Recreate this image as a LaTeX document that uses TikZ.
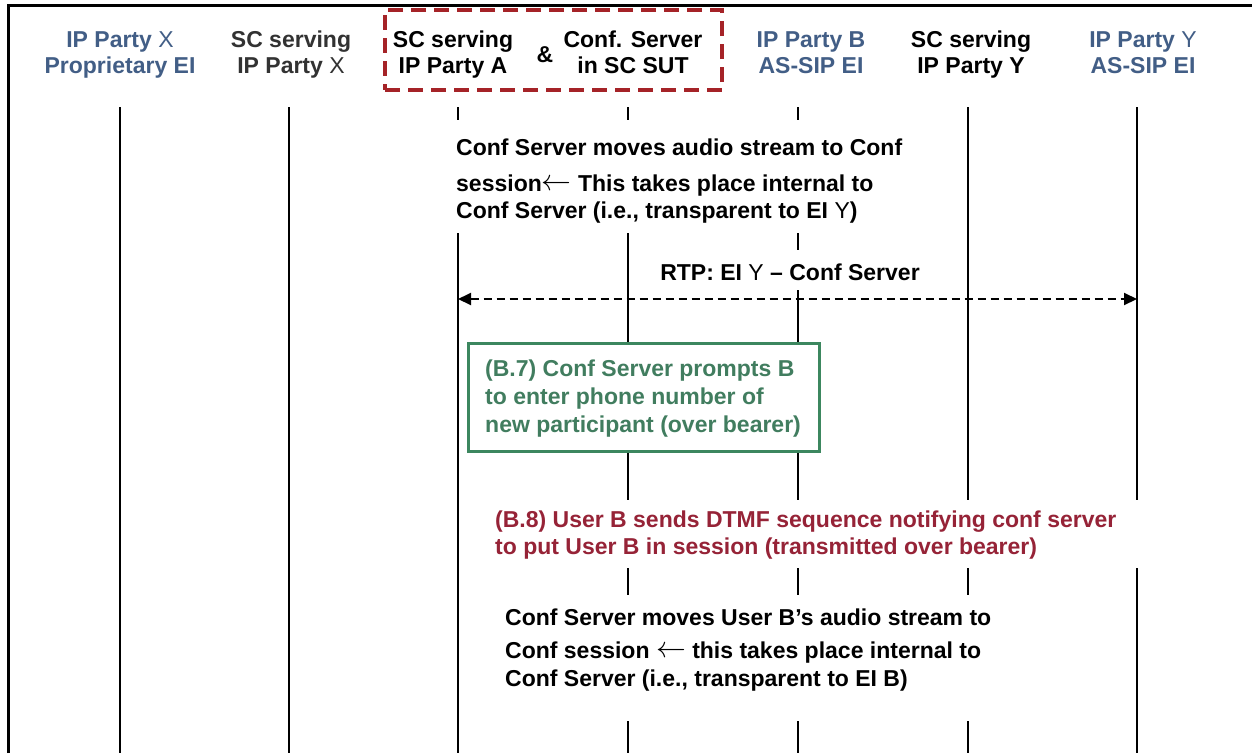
\documentclass[tikz,border=0pt]{standalone}
\usepackage{fontspec}
\setmainfont{Liberation Sans}
\usetikzlibrary{arrows.meta}
\definecolor{hdrblue}{RGB}{66,94,134}
\definecolor{hdrgrey}{RGB}{50,50,50}
\definecolor{boxred}{RGB}{165,35,40}
\definecolor{boxgreen}{RGB}{60,135,95}
\definecolor{txtgreen}{RGB}{65,125,95}
\definecolor{txtred}{RGB}{150,35,55}
\newcommand{\larr}{\raisebox{0.5pt}{\scalebox{1.2}{$\leftarrow$}}}
\begin{document}
\begin{tikzpicture}[x=1pt,y=-1pt,
  font=\fontsize{23}{28}\selectfont\bfseries,
  hdr/.style={anchor=base, inner sep=0pt},
  txtline/.style={anchor=base west, inner sep=0pt},
  life/.style={line width=2pt, black},
  mask/.style={fill=white, draw=none, inner sep=0pt, anchor=north west},
  frame/.style={line width=3pt, black},
  sutbox/.style={draw=boxred, line width=3.5pt, dash pattern=on 15pt off 8pt, inner sep=0pt, minimum width=337pt, minimum height=80pt},
  notebox/.style={draw=boxgreen, line width=3pt, fill=white, inner sep=0pt, anchor=north west, minimum width=351pt, minimum height=108pt},
  rtp/.style={line width=2pt, dash pattern=on 8pt off 5pt, {Triangle[length=13pt,width=12pt]}-{Triangle[length=13pt,width=12pt]}}
]
\useasboundingbox (0,0) rectangle (1252,753);
% frame
\coordinate (fr0) at (8,753);
\coordinate (fr1) at (8,5);
\coordinate (fr2) at (1252,5);
\draw[frame] (fr0) -- (fr1) -- (fr2);

% SUT box
\node[sutbox] (sut) at (553.5,50) {};

% headers
\node[hdr, text=hdrblue] (h1a) at (120,47) {IP Party {\mdseries X}};
\node[hdr, text=hdrblue] (h1b) at (120,73) {Proprietary EI};
\node[hdr, text=hdrgrey] (h2a) at (291,47) {SC serving};
\node[hdr, text=hdrgrey] (h2b) at (291,73) {IP Party {\mdseries X}};
\node[hdr] (h3a) at (453,47) {SC serving};
\node[hdr] (h3b) at (453,73) {IP Party A};
\node[hdr] (amp) at (545,62) {\&};
\node[hdr] (h4a) at (633,47) {Conf. Server};
\node[hdr] (h4b) at (633,73) {in SC SUT};
\node[hdr, text=hdrblue] (h5a) at (811,47) {IP Party B};
\node[hdr, text=hdrblue] (h5b) at (811,73) {AS-SIP EI};
\node[hdr] (h6a) at (971,47) {SC serving};
\node[hdr] (h6b) at (971,73) {IP Party Y};
\node[hdr, text=hdrblue] (h7a) at (1143,47) {IP Party {\mdseries Y}};
\node[hdr, text=hdrblue] (h7b) at (1143,73) {AS-SIP EI};

% lifelines
\foreach \i/\x in {1/120,2/289,3/458,4/628,5/798,6/968,7/1137}{
  \coordinate (l\i t) at (\x,107);
  \coordinate (l\i b) at (\x,753);
  \draw[life] (l\i t) -- (l\i b);
}

% block 1
\node[mask, minimum width=480pt, minimum height=113pt] (m1) at (445,120) {};
\node[txtline] (t1a) at (456,155) {Conf Server moves audio stream to Conf};
\node[txtline] (t1b) at (456,191) {session\larr\ This takes place internal to};
\node[txtline] (t1c) at (456,218) {Conf Server (i.e., transparent to EI {\mdseries Y})};

% RTP
\node[mask, minimum width=280pt, minimum height=40pt] (m2) at (650,250) {};
\node[hdr] (rtpl) at (790,280) {RTP: EI {\mdseries Y} -- Conf Server};
\coordinate (a3) at (458,299);
\coordinate (a7) at (1137,299);
\draw[rtp] (a3) -- (a7);

% B.7
\node[notebox] (b7) at (467,342) {};
\node[txtline, text=txtgreen] (b7a) at (485,376) {(B.7) Conf Server prompts B};
\node[txtline, text=txtgreen] (b7b) at (485,404) {to enter phone number of};
\node[txtline, text=txtgreen] (b7c) at (485,432) {new participant (over bearer)};

% B.8
\node[mask, minimum width=662pt, minimum height=68pt] (m3) at (488,500) {};
\node[txtline, text=txtred] (b8a) at (495,527) {(B.8) User B sends DTMF sequence notifying conf server};
\node[txtline, text=txtred] (b8b) at (495,554) {to put User B in session (transmitted over bearer)};

% last block
\node[mask, minimum width=515pt, minimum height=126pt] (m4) at (495,595) {};
\node[txtline] (t4a) at (505,625) {Conf Server moves User B's audio stream to};
\node[txtline] (t4b) at (505,658) {Conf session \larr\ this takes place internal to};
\node[txtline] (t4c) at (505,686) {Conf Server (i.e., transparent to EI B)};
\end{tikzpicture}
\end{document}
